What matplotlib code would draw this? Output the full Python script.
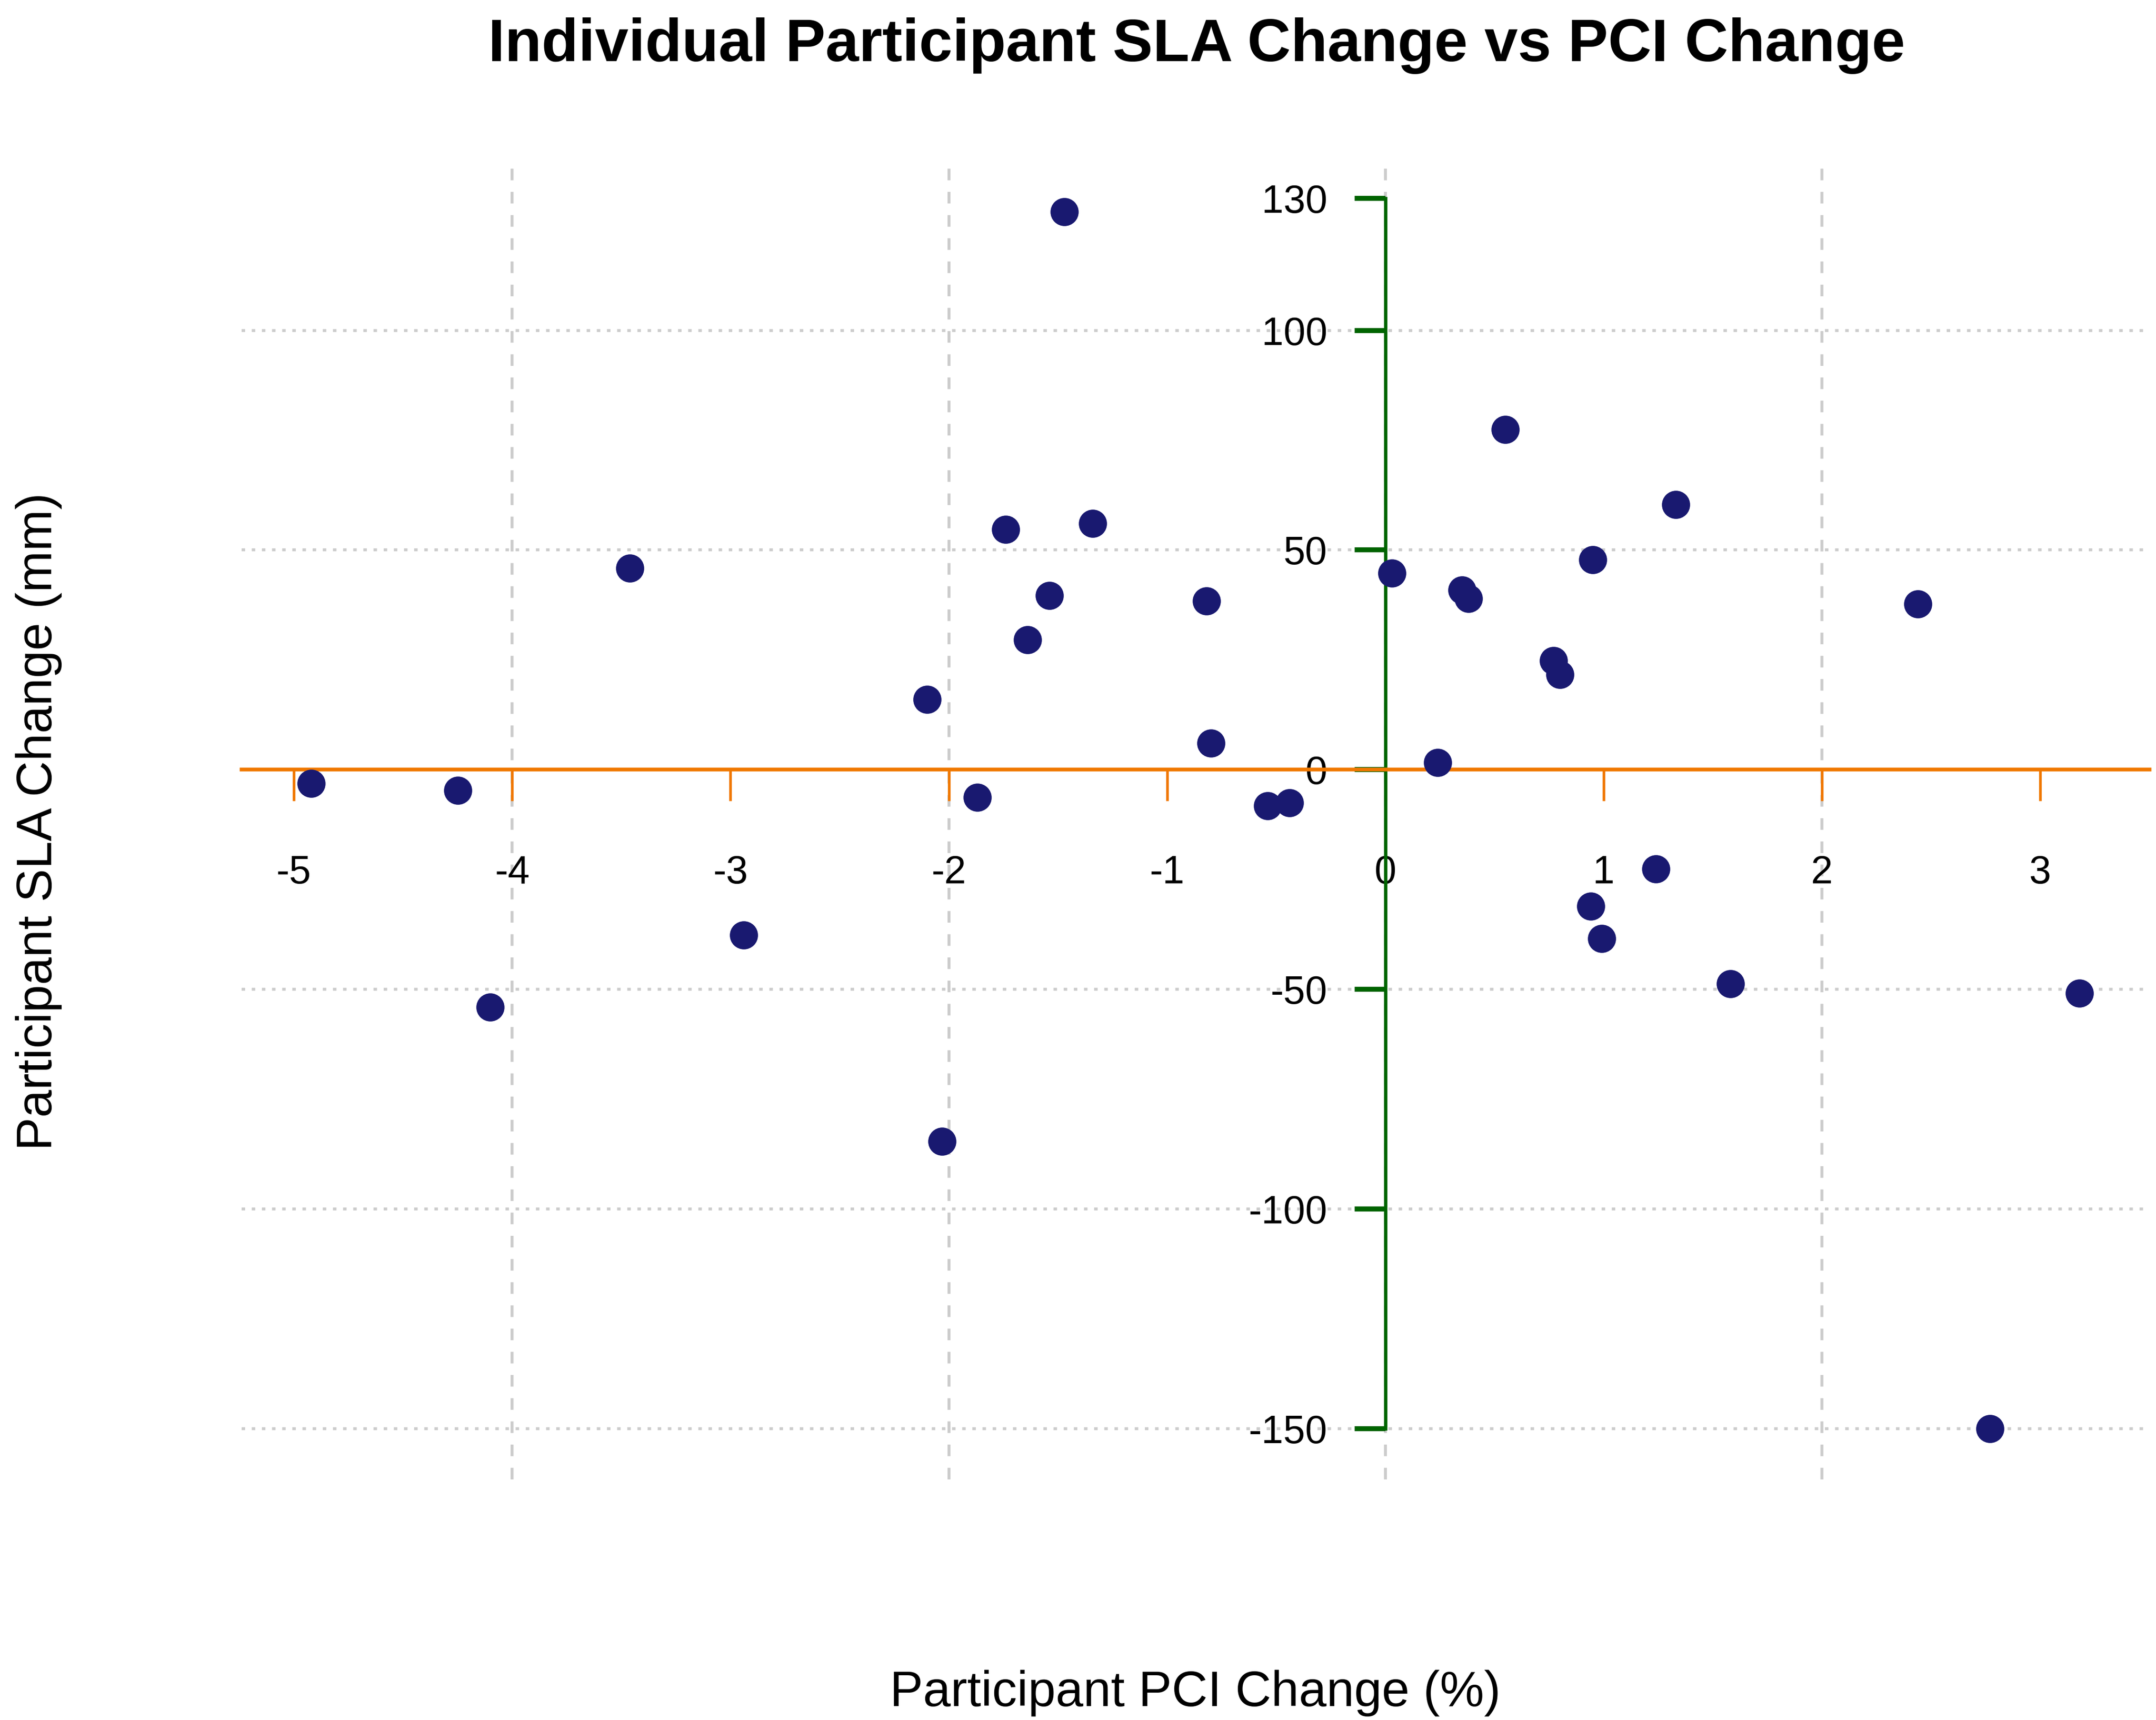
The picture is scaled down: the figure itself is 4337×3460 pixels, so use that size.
import matplotlib
matplotlib.use('Agg')
import matplotlib.pyplot as plt

plt.rcParams['font.family'] = ['Liberation Sans', 'DejaVu Sans']

# PCI change (%) and SLA change (mm) per participant
pci_change = [-4.92, -4.25, -3.46, -4.10, -2.94, -2.10, -2.03, -1.87, -1.74, -1.64,
              -1.54, -1.47, -1.34, -0.82, -0.80, -0.54, -0.44, 0.03, 0.24, 0.35,
              0.38, 0.55, 0.77, 0.80, 0.94, 0.95, 0.99, 1.24, 1.33, 1.58,
              2.44, 2.77, 3.18]
sla_change = [-3.1, -4.7, 45.9, -54.1, -37.7, 16.0, -84.6, -6.3, 54.7, 29.6,
              39.6, 127.0, 56.0, 38.4, 6.0, -8.2, -7.5, 44.7, 1.6, 40.9,
              39.0, 77.4, 24.8, 21.7, -31.1, 47.8, -38.4, -22.6, 60.4, -48.7,
              37.7, -150.0, -50.9]

x_ticks = [-5, -4, -3, -2, -1, 0, 1, 2, 3]
y_ticks = [-150, -100, -50, 0, 50, 100, 130]
x_grid = [-4, -2, 0, 2]
y_grid = [-150, -100, -50, 50, 100]

orange = '#f07800'
green = '#006400'

fig = plt.figure(figsize=(4337 / 300, 3460 / 300), dpi=300)
ax = fig.add_axes([0.112, 0.140, 0.885, 0.765])

# grid lines
for gx in x_grid:
    ax.axvline(gx, color='#cccccc', lw=1.4, ls=(0, (4, 4)), zorder=0)
for gy in y_grid:
    ax.axhline(gy, color='#cccccc', lw=1.4, ls=(0, (1.2, 2.3)), zorder=0)

ax.scatter(pci_change, sla_change, s=185, color='#191970', zorder=3, linewidths=0)

ax.set_xlim(-5.24, 3.5)
ax.set_ylim(-161.5, 138)

# spines crossing at the origin
ax.spines['top'].set_visible(False)
ax.spines['right'].set_visible(False)
ax.spines['bottom'].set_position(('data', 0))
ax.spines['left'].set_position(('data', 0))
ax.spines['bottom'].set_color(orange)
ax.spines['bottom'].set_linewidth(1.8)
ax.spines['left'].set_color(green)
ax.spines['left'].set_linewidth(1.6)
ax.spines['left'].set_bounds(-150, 130)

ax.set_xticks(x_ticks)
ax.set_xticklabels([str(v) for v in x_ticks])
ax.set_yticks(y_ticks)
ax.set_yticklabels([str(v) for v in y_ticks])
ax.tick_params(axis='x', colors=orange, labelcolor='black', length=15, width=1.3,
               pad=26, labelsize=19, direction='out')
ax.tick_params(axis='y', colors=green, labelcolor='black', length=15, width=2.4,
               pad=13, labelsize=19, direction='out')

ax.set_xlabel('Participant PCI Change (%)', fontsize=24)
ax.set_ylabel('Participant SLA Change (mm)', fontsize=24)
ax.xaxis.set_label_coords(0.5, -0.145)
ax.yaxis.set_label_coords(-0.094, 0.5)

fig.suptitle('Individual Participant SLA Change vs PCI Change', fontsize=29,
             fontweight='bold', x=0.555, y=0.99)

fig.savefig('out.png', dpi=300)
